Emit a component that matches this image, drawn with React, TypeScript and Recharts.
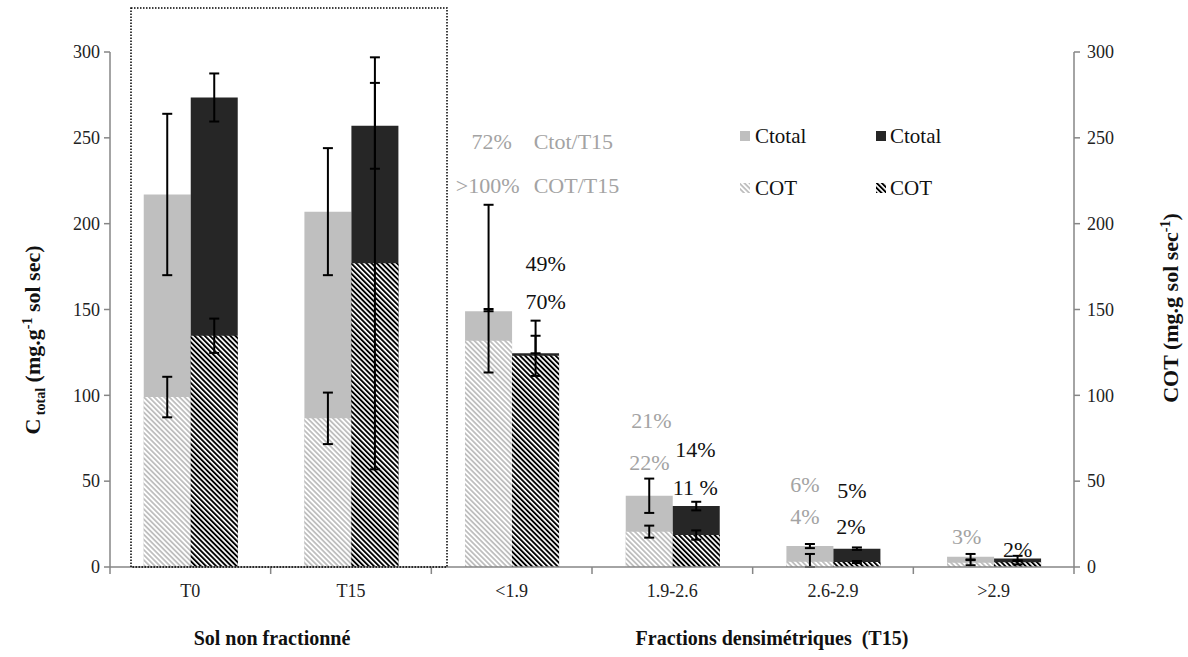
import React from "react";
import { BarChart, Bar, XAxis, YAxis, ErrorBar, ReferenceDot } from "recharts";

const FONT = "Liberation Serif";
const LIGHT = "#bfbfbf";
const DARK = "#262626";
const AXIS = "#868686";
const GRAY_TXT = "#a3a3a3";
const BLACK_TXT = "#111";

// données
const categories = ["T0", "T15", "<1.9", "1.9-2.6", "2.6-2.9", ">2.9"];
const ctotalLight = [217, 207, 149, 41.5, 12.2, 6];
const ctotalLightErr: any[] = [47, 37, [0, 62], 10, 1.2, 1.6];
const ctotalDark = [273.5, 257, 124.5, 35.5, 10.7, 5];
const ctotalDarkErr: any[] = [14, 25, [0, 19], 2.5, 0.7, 1.5];
const cotLight = [99, 86.6, 131.8, 20.6, 3, 2.5];
const cotLightErr: any[] = [11.8, 15, 18.5, 3.5, [3, 4.6], 1.5];
const cotDark = [134.7, 176.9, 123, 18.6, 2.9, 2.7];
const cotDarkErr: any[] = [10, 120, 11.7, 2.7, 0.6, 1.2];
const yTicks = [0, 50, 100, 150, 200, 250, 300];

// pourcentages annotés au-dessus des barres
const annotations = [
  { cat: "<1.9", y: 248, dx: -20, text: "72%", gray: true },
  { cat: "<1.9", y: 248, dx: 22, text: "Ctot/T15", gray: true, start: true },
  { cat: "<1.9", y: 222.5, dx: -24, text: ">100%", gray: true },
  { cat: "<1.9", y: 222.5, dx: 22, text: "COT/T15", gray: true, start: true },
  { cat: "<1.9", y: 177, dx: 34, text: "49%", gray: false },
  { cat: "<1.9", y: 154.5, dx: 34, text: "70%", gray: false },
  { cat: "1.9-2.6", y: 85.2, dx: -21, text: "21%", gray: true },
  { cat: "1.9-2.6", y: 61, dx: -23, text: "22%", gray: true },
  { cat: "1.9-2.6", y: 68.7, dx: 23, text: "14%", gray: false },
  { cat: "1.9-2.6", y: 46.6, dx: 23, text: "11 %", gray: false },
  { cat: "2.6-2.9", y: 48.3, dx: -28, text: "6%", gray: true },
  { cat: "2.6-2.9", y: 29.3, dx: -28, text: "4%", gray: true },
  { cat: "2.6-2.9", y: 44.8, dx: 19, text: "5%", gray: false },
  { cat: "2.6-2.9", y: 23.5, dx: 18, text: "2%", gray: false },
  { cat: ">2.9", y: 18, dx: -27, text: "3%", gray: true },
  { cat: ">2.9", y: 10.5, dx: 24, text: "2%", gray: false },
];

const data = categories.map((cat, i) => ({
  cat,
  ctL: ctotalLight[i], ctLErr: ctotalLightErr[i],
  ctD: ctotalDark[i], ctDErr: ctotalDarkErr[i],
  cotL: cotLight[i], cotLErr: cotLightErr[i],
  cotD: cotDark[i], cotDErr: cotDarkErr[i],
}));

const W = 1188, H = 657;
const M = { top: 52, right: 54, bottom: 60, left: 50 };
const YW = 60, XH = 30;
const PLOT_L = M.left + YW;
const PLOT_R = W - M.right - YW;
const PLOT_B = H - M.bottom - XH;
const serif = { fontFamily: FONT };

const CategoryTick = (props: any) => {
  const { x, payload, index } = props;
  const band = (PLOT_R - PLOT_L) / categories.length;
  const left = x - band / 2;
  return (
    <g>
      <line x1={left} x2={left} y1={PLOT_B} y2={PLOT_B + 7} stroke={AXIS} strokeWidth={1.5} />
      {index === categories.length - 1 && (
        <line x1={left + band} x2={left + band} y1={PLOT_B} y2={PLOT_B + 7} stroke={AXIS} strokeWidth={1.5} />
      )}
      <text x={x} y={PLOT_B + 30} textAnchor="middle" fontSize={18} style={serif} fill="#222">
        {payload.value}
      </text>
    </g>
  );
};

const ValueTick = (props: any) => {
  const { x, y, payload, textAnchor } = props;
  return (
    <text x={x} y={y} dy="0.35em" textAnchor={textAnchor} fontSize={18} style={serif} fill="#222">
      {payload.value}
    </text>
  );
};

const errProps = { width: 5, strokeWidth: 2, stroke: "#000", direction: "y" as const, isAnimationActive: false };

export default function App() {
  return (
    <div style={{ position: "absolute", left: 0, top: 0, width: W, height: H, background: "#fff", fontFamily: FONT }}>
      <BarChart width={W} height={H} data={data} margin={M} barCategoryGap="21%" barGap={0} style={serif}>
        <defs>
          <pattern id="hatchLight" patternUnits="userSpaceOnUse" width={3.6} height={3.6} patternTransform="rotate(-45)">
            <rect width={3.6} height={3.6} fill="#fff" />
            <rect width={1.8} height={3.6} fill={LIGHT} />
          </pattern>
          <pattern id="hatchDark" patternUnits="userSpaceOnUse" width={3.6} height={3.6} patternTransform="rotate(-45)">
            <rect width={3.6} height={3.6} fill="#fff" />
            <rect width={1.9} height={3.6} fill="#000" />
          </pattern>
        </defs>
        <XAxis
          xAxisId="a" dataKey="cat" height={XH} tickLine={false}
          axisLine={{ stroke: AXIS, strokeWidth: 1.5 }} tick={<CategoryTick />} interval={0}
          label={{
            content: () => (
              <g fontWeight="bold" fontSize={20} fill="#111">
                <text x={272} y={645} textAnchor="middle" style={serif}>Sol non fractionné</text>
                <text x={772} y={645} textAnchor="middle" style={serif} xmlSpace="preserve">
                  {"Fractions densimétriques  (T15)"}
                </text>
              </g>
            ),
          }}
        />
        <XAxis xAxisId="b" dataKey="cat" hide />
        <YAxis
          yAxisId="left" domain={[0, 300]} ticks={yTicks} width={YW} tickSize={6} tickMargin={4}
          axisLine={{ stroke: AXIS, strokeWidth: 1.5 }} tickLine={{ stroke: AXIS, strokeWidth: 1.5 }}
          tick={<ValueTick />}
          label={{
            content: () => (
              <text transform="translate(40,340) rotate(-90)" textAnchor="middle" fontSize={22}
                fontWeight="bold" style={serif} fill="#111">
                C<tspan fontSize={14} dy={5}> total</tspan>
                <tspan dy={-5}> (mg.g</tspan>
                <tspan fontSize={14} dy={-8}>-1</tspan>
                <tspan dy={8}> sol sec)</tspan>
              </text>
            ),
          }}
        />
        <YAxis
          yAxisId="right" orientation="right" domain={[0, 300]} ticks={yTicks} width={YW} tickSize={6} tickMargin={7}
          axisLine={{ stroke: AXIS, strokeWidth: 1.5 }} tickLine={{ stroke: AXIS, strokeWidth: 1.5 }}
          tick={<ValueTick />}
          label={{
            content: () => (
              <text transform="translate(1178,308) rotate(-90)" textAnchor="middle" fontSize={22}
                fontWeight="bold" style={serif} fill="#111">
                COT (mg.g sol sec<tspan fontSize={14} dy={-8}>-1</tspan>
                <tspan dy={8}>)</tspan>
              </text>
            ),
          }}
        />

        {/* Ctotal */}
        <Bar xAxisId="a" yAxisId="left" dataKey="ctL" fill={LIGHT} isAnimationActive={false}>
          <ErrorBar dataKey="ctLErr" {...errProps} />
        </Bar>
        <Bar xAxisId="a" yAxisId="left" dataKey="ctD" fill={DARK} isAnimationActive={false}>
          <ErrorBar dataKey="ctDErr" {...errProps} />
        </Bar>

        {/* COT, superposé */}
        <Bar xAxisId="b" yAxisId="right" dataKey="cotL" fill="url(#hatchLight)" isAnimationActive={false}>
          <ErrorBar dataKey="cotLErr" {...errProps} />
        </Bar>
        <Bar xAxisId="b" yAxisId="right" dataKey="cotD" fill="url(#hatchDark)" isAnimationActive={false}>
          <ErrorBar dataKey="cotDErr" {...errProps} />
        </Bar>

        {annotations.map((a, i) => (
          <ReferenceDot
            key={i} xAxisId="a" yAxisId="left" x={a.cat} y={a.y} r={1}
            shape={(p: any) => (
              <text x={p.cx + a.dx} y={p.cy} dy="0.35em" textAnchor={a.start ? "start" : "middle"}
                fontSize={22} style={serif} fill={a.gray ? GRAY_TXT : BLACK_TXT}>
                {a.text}
              </text>
            )}
          />
        ))}
      </BarChart>

      <svg width={W} height={H} style={{ position: "absolute", left: 0, top: 0, pointerEvents: "none" }}>
        <defs>
          <pattern id="legHatchLight" patternUnits="userSpaceOnUse" width={3.6} height={3.6} patternTransform="rotate(-45)">
            <rect width={3.6} height={3.6} fill="#fff" />
            <rect width={1.8} height={3.6} fill={LIGHT} />
          </pattern>
          <pattern id="legHatchDark" patternUnits="userSpaceOnUse" width={3.6} height={3.6} patternTransform="rotate(-45)">
            <rect width={3.6} height={3.6} fill="#fff" />
            <rect width={1.9} height={3.6} fill="#000" />
          </pattern>
        </defs>
        <rect x={131} y={8} width={316} height={559} fill="none" stroke="#000" strokeWidth={1.5} strokeDasharray="1.5 1.5" />
        <g fontSize={21} fill="#111">
          <rect x={740} y={131} width={10} height={10} fill={LIGHT} />
          <text x={755} y={136} dy="0.35em" style={serif}>Ctotal</text>
          <rect x={876} y={131} width={10} height={10} fill={DARK} />
          <text x={890} y={136} dy="0.35em" style={serif}>Ctotal</text>
          <rect x={740} y={183} width={10} height={10} fill="url(#legHatchLight)" />
          <text x={755} y={188} dy="0.35em" style={serif}>COT</text>
          <rect x={876} y={183} width={10} height={10} fill="url(#legHatchDark)" />
          <text x={890} y={188} dy="0.35em" style={serif}>COT</text>
        </g>
      </svg>
    </div>
  );
}
